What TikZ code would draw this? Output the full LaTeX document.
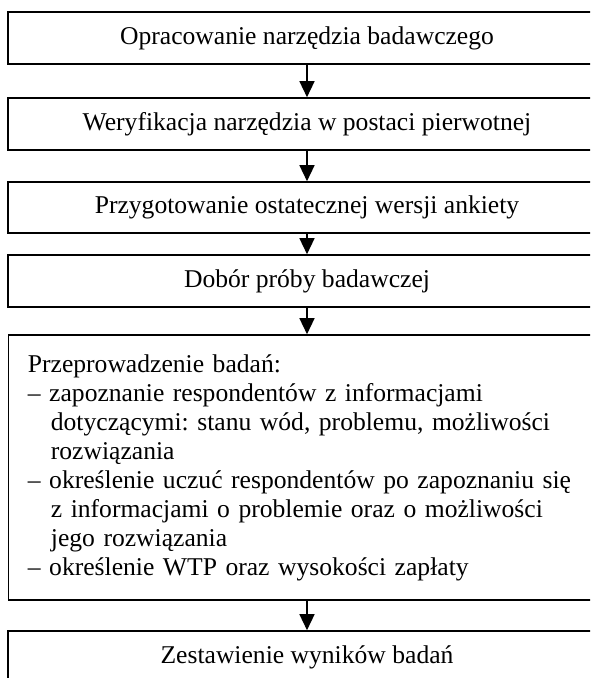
\documentclass[tikz,border=0pt]{standalone}
\usepackage{fontspec}
\setmainfont{Liberation Serif}
\usetikzlibrary{arrows.meta}
\setlength{\parindent}{0pt}
\frenchspacing
\newcommand{\ind}{\hspace*{23pt}}
\tikzset{
stage/.style={draw, line width=1.6pt, minimum width=597.5pt, minimum height=52pt, inner sep=0pt, font=\fontsize{25.6}{29}\selectfont},
arr/.style={-{Triangle[width=15pt,length=16pt]}, line width=1.4pt}
}

\begin{document}
\begin{tikzpicture}[x=1pt,y=-1pt]
\useasboundingbox (0,0) rectangle (590,678);
\clip (0,0) rectangle (590,678);
\node[stage] (b1) at (307,38) {Opracowanie narzędzia badawczego};
\node[stage] (b2) at (307,124) {Weryfikacja narzędzia w postaci pierwotnej};
\node[stage, minimum height=51pt] (b3) at (307,207.5) {Przygotowanie ostatecznej wersji ankiety};
\node[stage] (b4) at (307,281) {Dobór próby badawczej};
\node[stage, anchor=west, minimum height=265pt, text width=575pt, inner xsep=19.5pt, align=left] (b5) at (7.6,467.5) {Przeprowadzenie badań:\\
– zapoznanie respondentów z informacjami\\
\ind dotyczącymi: stanu wód, problemu, możliwości\\
\ind rozwiązania\\
– określenie uczuć respondentów po zapoznaniu się\\
\ind z informacjami o problemie oraz o możliwości\\
\ind jego rozwiązania\\
– określenie WTP oraz wysokości zapłaty};
\node[stage] (b6) at (307,657) {Zestawienie wyników badań};
\draw[arr] (b1) -- (b2);
\draw[arr] (b2) -- (b3);
\draw[arr] (b3) -- (b4);
\draw[arr] (b4) -- (b5.north -| b4.south);
\draw[arr] (b5.south -| b6.north) -- (b6);
\end{tikzpicture}
\end{document}
